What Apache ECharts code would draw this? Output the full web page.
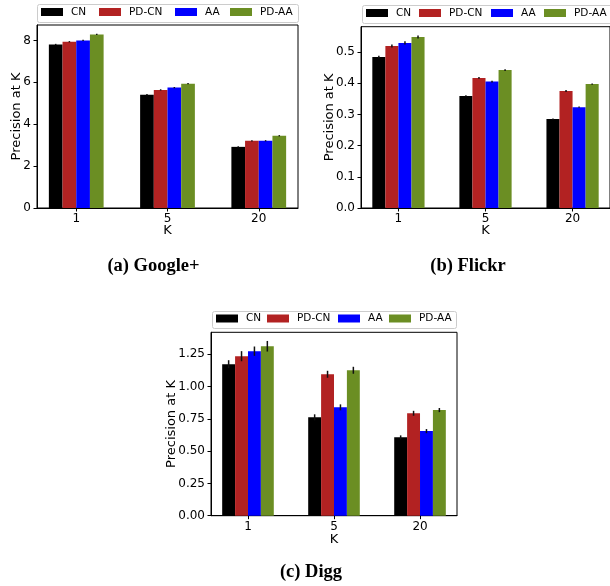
<!DOCTYPE html>
<html>
<head>
<meta charset="utf-8">
<script src="https://cdn.jsdelivr.net/npm/echarts@6/dist/echarts.min.js"></script>
<style>html,body{margin:0;padding:0;background:#fff}#c{width:610px;height:586px}</style>
</head>
<body>
<div id="c"></div>
<script>
// ---- data ----
const categories = ['1', '5', '20'];
const seriesNames = ['CN', 'PD-CN', 'AA', 'PD-AA'];
const colors = ['#000000', '#b22222', '#0000ff', '#6b8e23'];

// (a) Google+
const googleCN = [7.81, 5.41, 2.92];
const googlePDCN = [7.94, 5.64, 3.21];
const googleAA = [8.00, 5.75, 3.21];
const googlePDAA = [8.29, 5.94, 3.45];
const googleErrCN = [0.03, 0.03, 0.03];
const googleErrPDCN = [0.03, 0.03, 0.03];
const googleErrAA = [0.03, 0.03, 0.03];
const googleErrPDAA = [0.03, 0.03, 0.03];

// (b) Flickr
const flickrCN = [0.484, 0.359, 0.285];
const flickrPDCN = [0.519, 0.417, 0.375];
const flickrAA = [0.529, 0.405, 0.323];
const flickrPDAA = [0.548, 0.442, 0.397];
const flickrErrCN = [0.004, 0.002, 0.002];
const flickrErrPDCN = [0.005, 0.003, 0.003];
const flickrErrAA = [0.005, 0.003, 0.002];
const flickrErrPDAA = [0.005, 0.003, 0.002];

// (c) Digg
const diggCN = [1.173, 0.762, 0.607];
const diggPDCN = [1.235, 1.095, 0.793];
const diggAA = [1.274, 0.839, 0.655];
const diggPDAA = [1.312, 1.126, 0.818];
const diggErrCN = [0.031, 0.023, 0.015];
const diggErrPDCN = [0.039, 0.027, 0.019];
const diggErrAA = [0.036, 0.023, 0.016];
const diggErrPDAA = [0.041, 0.027, 0.016];

// tick labels
const xTicks = [0, 1, 2];
const yTicksA = [0, 2, 4, 6, 8];
const yTicksB = [0, 0.1, 0.2, 0.3, 0.4, 0.5];
const yTicksC = [0, 0.25, 0.5, 0.75, 1.0, 1.25];
const captions = ['(a) Google+', '(b) Flickr', '(c) Digg'];
const yName = 'Precision at K';
const xName = 'K';

// ---- layout ----
const panels = [
  {vals:[googleCN,googlePDCN,googleAA,googlePDAA], errs:[googleErrCN,googleErrPDCN,googleErrAA,googleErrPDAA],
   yTicks:yTicksA, dec:0, ymax:8.74,
   grid:{left:37, top:25, width:261, height:183}, yGap:14, xGap:16,
   legX:[41,99,175,230], legY:13, box:[37,4,261,18], cap:[153.5,266]},
  {vals:[flickrCN,flickrPDCN,flickrAA,flickrPDAA], errs:[flickrErrCN,flickrErrPDCN,flickrErrAA,flickrErrPDAA],
   yTicks:yTicksB, dec:1, ymax:0.581,
   grid:{left:361, top:26.7, width:257.5, height:181.3}, yGap:25, xGap:16,
   legX:[366,419,491,544], legY:14, box:[362,5,262,18], cap:[468,266]},
  {vals:[diggCN,diggPDCN,diggAA,diggPDAA], errs:[diggErrCN,diggErrPDCN,diggErrAA,diggErrPDAA],
   yTicks:yTicksC, dec:2, ymax:1.42,
   grid:{left:211, top:332.3, width:246, height:183.4}, yGap:33, xGap:17,
   legX:[216,267,338,389], legY:319.5, box:[212,311,244,17], cap:[311,572]}
];

const FONT = 'DejaVu Sans';
const grids = [], xAxes = [], yAxes = [], series = [], legends = [], graphics = [];

function makeRender(idx, color) {
  return function (params, api) {
    const x = api.value(0), v = api.value(1), e = api.value(2);
    const bw = 0.15;
    const cx = x - 0.3 + (idx + 0.5) * bw;
    const p0 = api.coord([cx - bw / 2, 0]);
    const p1 = api.coord([cx + bw / 2, v]);
    const t = api.coord([cx, v + e]);
    const b = api.coord([cx, v - e]);
    return {
      type: 'group',
      children: [
        {type: 'rect', shape: {x: p0[0], y: p1[1], width: p1[0] - p0[0], height: p0[1] - p1[1]}, style: {fill: color}},
        {type: 'line', shape: {x1: t[0], y1: t[1], x2: b[0], y2: b[1]}, style: {stroke: '#111', lineWidth: 1.5}}
      ]
    };
  };
}

panels.forEach((p, pi) => {
  grids.push(Object.assign({show: true, borderColor: '#000', borderWidth: 1, backgroundColor: 'transparent'}, p.grid));
  xAxes.push({
    type: 'value', gridIndex: pi, min: -0.43, max: 2.43,
    name: xName, nameLocation: 'middle', nameGap: p.xGap, nameMoveOverlap: false,
    nameTextStyle: {fontFamily: FONT, fontSize: 13, color: '#000'},
    axisLine: {show: true, onZero: false, lineStyle: {color: '#000', width: 1}},
    axisTick: {show: true, customValues: xTicks, length: 3.5, lineStyle: {color: '#000'}},
    axisLabel: {customValues: xTicks, formatter: v => categories[Math.round(v)], fontFamily: FONT, fontSize: 12, color: '#000', margin: 5},
    splitLine: {show: false}
  });
  yAxes.push({
    type: 'value', gridIndex: pi, min: 0, max: p.ymax,
    name: yName, nameLocation: 'middle', nameGap: p.yGap, nameMoveOverlap: false,
    nameTextStyle: {fontFamily: FONT, fontSize: 13, color: '#000'},
    axisLine: {show: true, onZero: false, lineStyle: {color: '#000', width: 1}},
    axisTick: {show: true, customValues: p.yTicks, length: 3.5, lineStyle: {color: '#000'}},
    axisLabel: {customValues: p.yTicks, formatter: v => v.toFixed(p.dec), fontFamily: FONT, fontSize: 12, color: '#000', margin: 6},
    splitLine: {show: false}
  });
  seriesNames.forEach((name, si) => {
    const data = categories.map((c, ci) => [ci, p.vals[si][ci], p.errs[si][ci]]);
    series.push({
      type: 'custom', name: name, xAxisIndex: pi, yAxisIndex: pi,
      itemStyle: {color: colors[si]},
      encode: {x: 0, y: 1},
      renderItem: makeRender(si, colors[si]),
      data: data, animation: false
    });
    legends.push({
      data: [{name: name, icon: 'rect'}], left: p.legX[si], top: p.legY - 6.5,
      itemWidth: 22, itemHeight: 8, padding: 0, selectedMode: false,
      textStyle: {fontFamily: FONT, fontSize: 10.5, color: '#000', padding: [0, 0, 0, 3]}
    });
  });
  graphics.push({
    type: 'rect', z: -1, shape: {x: p.box[0] + 0.5, y: p.box[1] + 0.5, width: p.box[2], height: p.box[3], r: 2},
    style: {fill: '#fff', stroke: '#cccccc', lineWidth: 1}
  });
  graphics.push({
    type: 'text', x: p.cap[0], y: p.cap[1],
    style: {text: captions[pi], font: 'bold 18.5px "Liberation Serif"', fill: '#000', align: 'center', verticalAlign: 'middle'}
  });
});

const chart = echarts.init(document.getElementById('c'), null, {renderer: 'canvas'});
chart.setOption({
  animation: false,
  backgroundColor: '#fff',
  grid: grids, xAxis: xAxes, yAxis: yAxes,
  legend: legends, series: series, graphic: graphics
});
</script>
</body>
</html>
